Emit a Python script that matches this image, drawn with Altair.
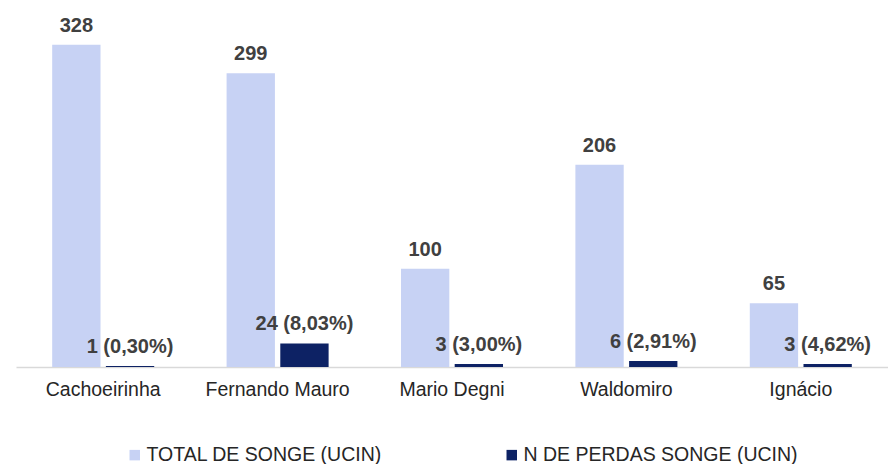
import altair as alt
import pandas as pd

categories = ["Cachoeirinha", "Fernando Mauro", "Mario Degni", "Waldomiro", "Ignácio"]
series_names = ["TOTAL DE SONGE (UCIN)", "N DE PERDAS SONGE (UCIN)"]
total_songe = [328, 299, 100, 206, 65]
perdas_songe = [1, 24, 3, 6, 3]
perdas_labels = ["1 (0,30%)", "24 (8,03%)", "3 (3,00%)", "6 (2,91%)", "3 (4,62%)"]
colors = ["#c7d2f4", "#0d2264"]

rows = []
for i, c in enumerate(categories):
    rows.append({"cat": c, "serie": series_names[0], "value": total_songe[i], "label": str(total_songe[i])})
    rows.append({"cat": c, "serie": series_names[1], "value": perdas_songe[i], "label": perdas_labels[i]})
df = pd.DataFrame(rows)

FONT_REG = "Liberation Sans, Arial, sans-serif"

x = alt.X("cat:N", sort=categories, title=None,
          scale=alt.Scale(paddingInner=0, paddingOuter=0),
          axis=alt.Axis(labelAngle=0, labelFontSize=19.5, labelFont=FONT_REG, labelColor="#262626",
                        ticks=False, domainColor="#d9d9d9", domainWidth=1.3, labelPadding=13))
xo = alt.XOffset("serie:N", sort=series_names,
                 scale=alt.Scale(paddingInner=0.1, paddingOuter=0.674))
y = alt.Y("value:Q", scale=alt.Scale(domain=[0, 340]), axis=None)

base = alt.Chart(df)

bars = base.mark_bar().encode(
    x=x, xOffset=xo, y=y,
    color=alt.Color("serie:N", sort=series_names,
                    scale=alt.Scale(domain=series_names, range=colors),
                    legend=alt.Legend(title=None, orient="none", direction="horizontal",
                                      legendX=109, legendY=412,
                                      symbolType="square", symbolSize=110, symbolStrokeWidth=0,
                                      labelFontSize=19.5, labelFont=FONT_REG, labelColor="#262626",
                                      labelOffset=2, columnPadding=120, labelLimit=400)),
)

text = base.mark_text(fontSize=20, fontWeight="bold", font=FONT_REG, color="#404040",
                      baseline="alphabetic", dy=-13).encode(
    x=x, xOffset=xo, y=y, text="label:N"
)

chart = (bars + text).properties(
    width=872, height=334,
    padding={"left": 8, "top": 25, "right": 0, "bottom": 110},
    autosize=alt.AutoSizeParams(type="none"),
).configure_view(stroke=None)

chart.save("out.html", embed_options={"renderer": "svg", "actions": False})
